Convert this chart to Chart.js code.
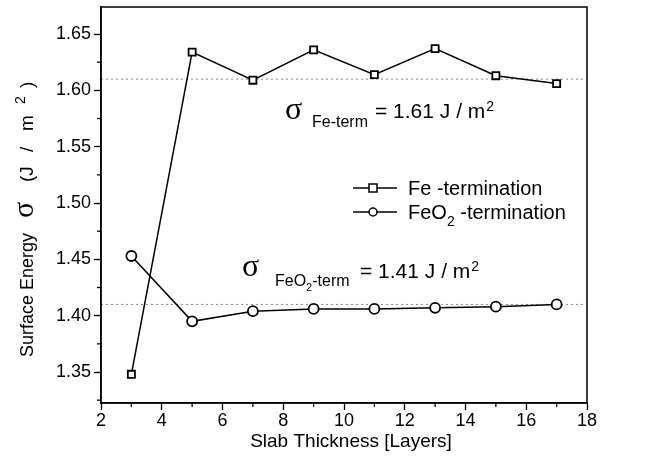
<!DOCTYPE html>
<html>
<head>
<meta charset="utf-8">
<script src="https://cdn.jsdelivr.net/npm/chart.js@4.4.0/dist/chart.umd.min.js"></script>
<style>
  html, body { margin: 0; padding: 0; background: #fff; }
  #wrap { width: 646px; height: 459px; }
</style>
</head>
<body>
<div id="wrap"><canvas id="chart" width="646" height="459"></canvas></div>
<script>
const layers = [3, 5, 7, 9, 11, 13, 15, 17];
const feTerm = [1.348, 1.634, 1.609, 1.636, 1.614, 1.637, 1.613, 1.606];
const feo2Term = [1.453, 1.395, 1.404, 1.406, 1.406, 1.407, 1.408, 1.410];
const feAverage = 1.61;
const feo2Average = 1.41;
const xRange = [2, 18];
const yRange = [1.3225, 1.674];

const FONT = "'Liberation Sans', Arial, sans-serif";
const SERIF = "'Liberation Serif', 'Times New Roman', serif";

function isMajorX(v) { return Math.abs(v % 2) < 1e-6; }
function isMajorY(v) { return Math.abs(Math.round(v * 20) - v * 20) < 1e-6; }

// frame, minor ticks, annotations, legend, axis titles
const decorations = {
  id: "decorations",
  afterDraw(chart) {
    const ctx = chart.ctx;
    const a = chart.chartArea;
    const xs = chart.scales.x, ys = chart.scales.y;
    ctx.save();

    // minor ticks
    ctx.strokeStyle = "#000";
    ctx.lineWidth = 1.3;
    ys.ticks.forEach(t => {
      if (!isMajorY(t.value)) {
        const y = ys.getPixelForValue(t.value);
        ctx.beginPath(); ctx.moveTo(a.left - 4, y); ctx.lineTo(a.left, y); ctx.stroke();
      }
    });
    xs.ticks.forEach(t => {
      if (!isMajorX(t.value)) {
        const x = xs.getPixelForValue(t.value);
        ctx.beginPath(); ctx.moveTo(x, a.bottom); ctx.lineTo(x, a.bottom + 4); ctx.stroke();
      }
    });

    // frame
    ctx.lineWidth = 1.5;
    ctx.strokeRect(a.left, a.top, a.right - a.left, a.bottom - a.top);

    // annotations
    ctx.fillStyle = "#000";
    ctx.textBaseline = "alphabetic";
    ctx.textAlign = "left";
    function txt(s, x, y, font) {
      ctx.font = font;
      ctx.fillText(s, x, y);
      return x + ctx.measureText(s).width;
    }
    // sigma Fe-term
    txt("σ", 285, 119, "32px " + SERIF);
    txt("Fe-term", 312, 127, "16px " + FONT);
    let e = txt("= 1.61 J / m", 375, 118, "21px " + FONT);
    txt("2", e + 1, 111, "14px " + FONT);
    // sigma FeO2-term
    txt("σ", 242, 276, "32px " + SERIF);
    e = txt("FeO", 275, 286, "16px " + FONT);
    e = txt("2", e, 291, "11px " + FONT);
    txt("-term", e, 286, "16px " + FONT);
    e = txt("= 1.41 J / m", 360, 278, "21px " + FONT);
    txt("2", e + 1, 271, "14px " + FONT);

    // legend
    function marker(x, y, kind) {
      ctx.strokeStyle = "#000";
      ctx.lineWidth = 1.5;
      ctx.beginPath(); ctx.moveTo(x - 20, y); ctx.lineTo(x + 24, y); ctx.stroke();
      ctx.fillStyle = "#fff";
      ctx.beginPath();
      if (kind === "rect") ctx.rect(x - 4, y - 4, 8, 8);
      else ctx.arc(x, y, 4, 0, Math.PI * 2);
      ctx.fill(); ctx.stroke();
      ctx.fillStyle = "#000";
    }
    marker(373, 188, "rect");
    marker(373, 212, "circle");
    txt("Fe -termination", 408, 195, "20px " + FONT);
    e = txt("FeO", 408, 219, "20px " + FONT);
    e = txt("2", e, 226, "14px " + FONT);
    txt(" -termination", e, 219, "20px " + FONT);

    // x title
    ctx.textAlign = "center";
    txt("Slab Thickness [Layers]", 351, 447, "19px " + FONT);
    ctx.textAlign = "left";

    // y title (rotated, reads bottom to top)
    ctx.translate(33, 0);
    ctx.rotate(-Math.PI / 2);
    const tf = "19px " + FONT;
    txt("Surface Energy", -357, 0, "18px " + FONT);
    txt("σ", -218, 0, "30px " + SERIF);
    txt("(J", -182, 0, tf);
    txt("/", -152, 0, tf);
    txt("m", -131, 0, tf);
    txt("2", -104, -8, "14px " + FONT);
    txt(")", -88, 0, tf);
    ctx.restore();
  }
};

function refLine(v) {
  return {
    data: [{ x: xRange[0], y: v }, { x: xRange[1], y: v }],
    borderColor: "#888",
    borderWidth: 1,
    borderDash: [2, 3],
    pointRadius: 0,
    order: 5
  };
}

new Chart(document.getElementById("chart"), {
  type: "line",
  data: {
    datasets: [
      refLine(feAverage),
      refLine(feo2Average),
      {
        label: "Fe -termination",
        data: layers.map((x, i) => ({ x: x, y: feTerm[i] })),
        borderColor: "#000",
        borderWidth: 1.5,
        pointStyle: "rect",
        pointRadius: 5,
        pointBackgroundColor: "#fff",
        pointBorderColor: "#000",
        pointBorderWidth: 1.8,
        order: 1
      },
      {
        label: "FeO2 -termination",
        data: layers.map((x, i) => ({ x: x, y: feo2Term[i] })),
        borderColor: "#000",
        borderWidth: 1.5,
        pointStyle: "circle",
        pointRadius: 5,
        pointBackgroundColor: "#fff",
        pointBorderColor: "#000",
        pointBorderWidth: 1.8,
        order: 2
      }
    ]
  },
  options: {
    responsive: false,
    animation: false,
    layout: { padding: { top: 7, right: 59, left: 0, bottom: 0 } },
    plugins: { legend: { display: false }, tooltip: { enabled: false } },
    scales: {
      x: {
        type: "linear",
        min: xRange[0],
        max: xRange[1],
        afterFit(s) { s.height = 56; },
        border: { display: true, color: "#000", width: 1.5 },
        grid: {
          drawOnChartArea: false,
          tickLength: 7,
          tickWidth: 1.3,
          tickColor: c => (c.tick && isMajorX(c.tick.value)) ? "#000" : "rgba(0,0,0,0)"
        },
        ticks: {
          stepSize: 1,
          autoSkip: false,
          maxRotation: 0,
          padding: 0,
          color: "#000",
          font: { family: FONT, size: 18 },
          callback: v => isMajorX(v) ? String(v) : ""
        }
      },
      y: {
        min: yRange[0],
        max: yRange[1],
        afterFit(s) { s.width = 101; s.paddingTop = 0; s.paddingBottom = 0; },
        border: { display: true, color: "#000", width: 1.5 },
        grid: {
          drawOnChartArea: false,
          tickLength: 7,
          tickWidth: 1.3,
          tickColor: c => (c.tick && isMajorY(c.tick.value)) ? "#000" : "rgba(0,0,0,0)"
        },
        afterBuildTicks(s) {
          const t = [];
          for (let i = 53; i <= 66; i++) t.push({ value: i * 0.025 });
          s.ticks = t;
        },
        ticks: {
          autoSkip: false,
          padding: 3,
          color: "#000",
          font: { family: FONT, size: 18 },
          callback: v => isMajorY(v) ? v.toFixed(2) : ""
        }
      }
    }
  },
  plugins: [decorations]
});
</script>
</body>
</html>
